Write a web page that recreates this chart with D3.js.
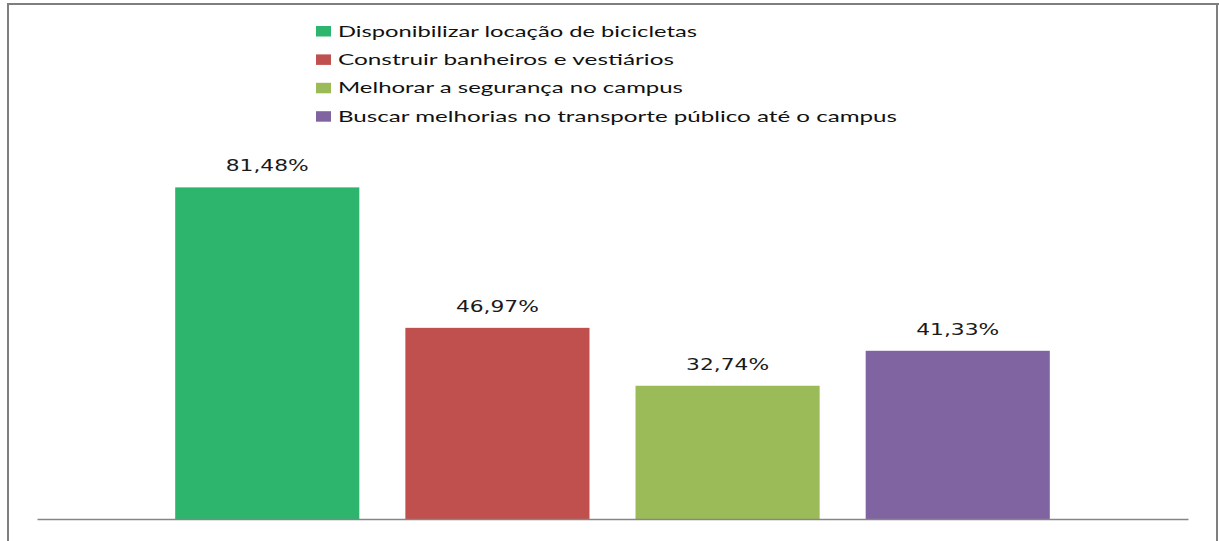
<!DOCTYPE html>
<html>
<head>
<meta charset="utf-8">
<script src="https://cdn.jsdelivr.net/npm/d3@7"></script>
<style>
  html, body { margin: 0; padding: 0; background: #fff; }
  svg { display: block; }
</style>
</head>
<body>
<svg id="chart" width="1219" height="541"></svg>
<script>
// Single-category clustered column chart: four proposed measures
const category = ["Medidas"];
const seriesNames = [
  "Disponibilizar locação de bicicletas",
  "Construir banheiros e vestiários",
  "Melhorar a segurança no campus",
  "Buscar melhorias no transporte público até o campus"
];
const seriesValues = [81.48, 46.97, 32.74, 41.33];
const seriesColors = ["#2db56e", "#c0504d", "#9bbb59", "#8064a2"];
const yDomain = [0, 100];

const fmt = v => d3.format(".2f")(v).replace(".", ",") + "%";

const svg = d3.select("#chart");

// frame
const frame = svg.append("g").attr("stroke", "#7f7f7f").attr("stroke-width", 2).attr("fill", "none");
frame.append("line").attr("x1", 7).attr("x2", 1219).attr("y1", 4).attr("y2", 4);
frame.append("line").attr("x1", 8).attr("x2", 8).attr("y1", 3).attr("y2", 541);
frame.append("line").attr("x1", 1217).attr("x2", 1217).attr("y1", 3).attr("y2", 541);

const plot = { left: 37, right: 1188, top: 112, bottom: 519 };

const x0 = d3.scaleBand().domain(category)
  .range([plot.left, plot.right]).paddingInner(0).paddingOuter(0.158);
const x1 = d3.scaleBand().domain(seriesNames)
  .range([0, x0.bandwidth()]).paddingInner(0.2).paddingOuter(0);
const y = d3.scaleLinear().domain(yDomain).range([plot.bottom, plot.top]);

const rows = seriesNames.map((name, i) => ({ name, value: seriesValues[i], color: seriesColors[i] }));

const g = svg.append("g").attr("transform", `translate(${x0(category[0])},0)`);

g.selectAll("rect.bar").data(rows).join("rect")
  .attr("class", "bar")
  .attr("x", d => x1(d.name))
  .attr("width", x1.bandwidth())
  .attr("y", d => y(d.value))
  .attr("height", d => y(0) - y(d.value))
  .attr("fill", d => d.color);

g.selectAll("text.val").data(rows).join("text")
  .attr("class", "val")
  .attr("x", d => x1(d.name) + x1.bandwidth() / 2)
  .attr("y", d => y(d.value) - 16)
  .attr("text-anchor", "middle")
  .attr("font-family", "DejaVu Sans")
  .attr("font-size", 15.5)
  .attr("fill", "#1a1a1a")
  .attr("textLength", 83)
  .attr("lengthAdjust", "spacingAndGlyphs")
  .text(d => fmt(d.value));

// category axis line
const xAxis = d3.axisBottom(d3.scaleLinear().range([plot.left, plot.right])).ticks(0).tickSize(0).tickFormat("");
const ax = svg.append("g").attr("transform", `translate(0,${plot.bottom})`).call(xAxis);
ax.select(".domain").attr("stroke", "#868686").attr("stroke-width", 1.6);

// legend
const legendWidths = [359, 336, 345, 559];
const lg = svg.append("g");
const items = lg.selectAll("g").data(rows).join("g")
  .attr("transform", (d, i) => `translate(316,${36.5 + i * 28.4})`);
items.append("rect")
  .attr("x", 0).attr("y", -10.5).attr("width", 15).attr("height", 10.5)
  .attr("fill", d => d.color);
items.append("text")
  .attr("x", 22).attr("y", 0)
  .attr("font-family", "Lato")
  .attr("font-size", 16)
  .attr("fill", "#111")
  .attr("textLength", (d, i) => legendWidths[i])
  .attr("lengthAdjust", "spacingAndGlyphs")
  .text(d => d.name);
</script>
</body>
</html>
